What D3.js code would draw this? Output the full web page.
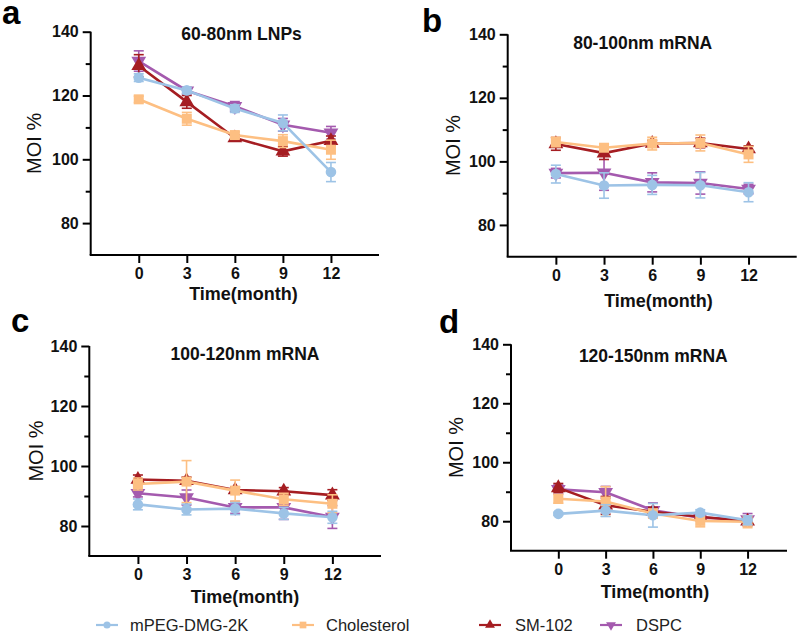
<!DOCTYPE html>
<html>
<head>
<meta charset="utf-8">
<script src="https://cdn.jsdelivr.net/npm/d3@7"></script>
<style>
  html, body { margin: 0; padding: 0; background: #fff; }
  svg { display: block; font-family: Arial, "Liberation Sans", sans-serif; }
</style>
</head>
<body>
<svg id="chart" width="800" height="634"></svg>
<script>
// ---------- DATA ----------
const months = [0, 3, 6, 9, 12];
const xTicks = [0, 3, 6, 9, 12];
const yTicksMajor = [80, 100, 120, 140];
const yTicksMinor = [90, 110, 130];
const seriesNames = ["mPEG-DMG-2K", "Cholesterol", "SM-102", "DSPC"];
const seriesColors = ["#9dc3e6", "#fdbf82", "#a51d22", "#a45aae"];
const panelTitles = ["60-80nm LNPs", "80-100nm mRNA", "100-120nm mRNA", "120-150nm mRNA"];
const panelLetters = ["a", "b", "c", "d"];

// panel a
const a_mPEG = [125.6, 121.6, 115.9, 111.4, 96.0];
const a_mPEG_sd = [1.2, 1.0, 1.2, 2.5, 3.0];
const a_Chol = [118.8, 112.7, 107.6, 105.7, 103.0];
const a_Chol_sd = [1.0, 2.0, 1.0, 2.0, 3.0];
const a_SM = [129.3, 118.0, 106.7, 102.5, 105.8];
const a_SM_sd = [3.5, 2.0, 1.0, 1.5, 1.5];
const a_DSPC = [130.8, 121.5, 116.6, 110.8, 108.3];
const a_DSPC_sd = [3.2, 1.0, 1.5, 2.0, 2.0];

// panel b
const b_mPEG = [96.0, 92.4, 92.6, 92.5, 90.3];
const b_mPEG_sd = [2.8, 4.0, 3.0, 4.0, 3.0];
const b_Chol = [106.1, 104.3, 105.6, 105.8, 102.2];
const b_Chol_sd = [1.5, 1.0, 2.0, 2.5, 2.5];
const b_SM = [105.5, 102.6, 105.6, 105.8, 103.9];
const b_SM_sd = [2.0, 2.0, 1.0, 1.5, 1.0];
const b_DSPC = [96.3, 96.4, 93.4, 93.2, 91.3];
const b_DSPC_sd = [1.5, 5.5, 3.0, 3.5, 1.5];

// panel c
const c_mPEG = [87.2, 85.5, 85.8, 84.2, 82.9];
const c_mPEG_sd = [1.8, 1.8, 2.0, 2.0, 2.0];
const c_Chol = [94.0, 94.8, 91.8, 88.9, 87.4];
const c_Chol_sd = [2.0, 7.0, 3.5, 2.0, 3.0];
const c_SM = [95.5, 95.1, 92.0, 91.6, 90.3];
const c_SM_sd = [1.5, 1.2, 1.0, 1.2, 1.8];
const c_DSPC = [90.9, 89.5, 86.2, 86.2, 83.0];
const c_DSPC_sd = [1.2, 2.5, 2.0, 4.0, 3.8];

// panel d
const d_mPEG = [82.5, 83.6, 82.0, 82.9, 80.3];
const d_mPEG_sd = [0.5, 2.0, 4.0, 1.0, 1.5];
const d_Chol = [87.6, 86.7, 82.6, 80.1, 79.8];
const d_Chol_sd = [1.5, 5.0, 1.5, 2.0, 2.0];
const d_SM = [91.3, 85.4, 83.2, 81.5, 80.0];
const d_SM_sd = [1.5, 3.0, 1.5, 1.0, 1.5];
const d_DSPC = [90.8, 89.8, 83.7, 81.2, 80.6];
const d_DSPC_sd = [1.5, 2.0, 2.5, 1.0, 2.0];

const panelValues = [
  [[a_mPEG, a_mPEG_sd], [a_Chol, a_Chol_sd], [a_SM, a_SM_sd], [a_DSPC, a_DSPC_sd]],
  [[b_mPEG, b_mPEG_sd], [b_Chol, b_Chol_sd], [b_SM, b_SM_sd], [b_DSPC, b_DSPC_sd]],
  [[c_mPEG, c_mPEG_sd], [c_Chol, c_Chol_sd], [c_SM, c_SM_sd], [c_DSPC, c_DSPC_sd]],
  [[d_mPEG, d_mPEG_sd], [d_Chol, d_Chol_sd], [d_SM, d_SM_sd], [d_DSPC, d_DSPC_sd]]
];

// ---------- LAYOUT ----------
const layout = [
  { left: 90.7, right: 379, top: 31.7, bottom: 255, xMax: 15,
    titleX: 241.5, titleY: 40, xlabX: 243.5, xlabY: 300, ylabX: 34, letterX: 2, letterY: 24 },
  { left: 507.7, right: 796.7, top: 34.3, bottom: 256.7, xMax: 15,
    titleX: 642.7, titleY: 49, xlabX: 658.5, xlabY: 307, ylabX: 453, letterX: 422, letterY: 32 },
  { left: 89.3, right: 381, top: 346, bottom: 556, xMax: 15,
    titleX: 245, titleY: 360, xlabX: 245, xlabY: 603, ylabX: 36, letterX: 11, letterY: 332 },
  { left: 511, right: 787, top: 344.3, bottom: 550.7, xMax: 14.5,
    titleX: 653.3, titleY: 362, xlabX: 655, xlabY: 598, ylabX: 456, letterX: 439, letterY: 333 }
];

const svg = d3.select("#chart");
const symbolTypes = [d3.symbolCircle, d3.symbolSquare, d3.symbolTriangle, d3.symbolTriangle];
const symbolSizes = [88, 100, 95, 95];
const symbolRotate = [0, 0, 0, 180];
const drawOrder = [3, 2, 1, 0];

panelValues.forEach((pv, pi) => {
  const L = layout[pi];
  const x = d3.scaleLinear().domain([-3, L.xMax]).range([L.left, L.right]);
  const y = d3.scaleLinear().domain([70, 140]).range([L.bottom, L.top]);
  const g = svg.append("g");

  // y axis (major)
  const yAx = g.append("g").attr("transform", `translate(${L.left},0)`)
    .call(d3.axisLeft(y).tickValues(yTicksMajor).tickSize(8).tickPadding(4).tickFormat(d3.format("d")));
  yAx.select(".domain").attr("stroke-width", 2).attr("d", `M0,${L.top}V${L.bottom}`);
  yAx.selectAll(".tick line").attr("stroke-width", 2);
  yAx.selectAll("text").attr("font-size", 16).attr("font-weight", "bold").attr("fill", "#111")
    .attr("font-family", "Arial, 'Liberation Sans', sans-serif");
  // minor ticks
  const yMin = g.append("g").attr("transform", `translate(${L.left},0)`)
    .call(d3.axisLeft(y).tickValues(yTicksMinor).tickSize(5).tickFormat(""));
  yMin.select(".domain").remove();
  yMin.selectAll(".tick line").attr("stroke-width", 2);

  // x axis
  const xAx = g.append("g").attr("transform", `translate(0,${L.bottom})`)
    .call(d3.axisBottom(x).tickValues(xTicks).tickSize(8).tickPadding(5).tickFormat(d3.format("d")));
  xAx.select(".domain").attr("stroke-width", 2).attr("d", `M${L.left - 1},0H${L.right}`);
  xAx.selectAll(".tick line").attr("stroke-width", 2);
  xAx.selectAll("text").attr("font-size", 16).attr("font-weight", "bold").attr("fill", "#111")
    .attr("font-family", "Arial, 'Liberation Sans', sans-serif");

  // titles & labels
  g.append("text").attr("x", L.titleX).attr("y", L.titleY).attr("text-anchor", "middle")
    .attr("font-size", 17.5).attr("font-weight", "bold").attr("fill", "#111").text(panelTitles[pi]);
  g.append("text").attr("x", L.xlabX).attr("y", L.xlabY).attr("text-anchor", "middle")
    .attr("font-size", 18).attr("font-weight", "bold").attr("fill", "#111").text("Time(month)");
  g.append("text").attr("transform", `translate(${L.ylabX + 7},${(L.top + L.bottom) / 2}) rotate(-90)`)
    .attr("text-anchor", "middle").attr("font-size", 20).attr("fill", "#111").text("MOI %");
  svg.append("text").attr("x", L.letterX).attr("y", L.letterY)
    .attr("font-size", 33).attr("font-weight", "bold").attr("fill", "#000").text(panelLetters[pi]);

  // series
  drawOrder.forEach(si => {
    const vals = pv[si][0], sds = pv[si][1];
    const pts = months.map((m, i) => ({ m, v: vals[i], sd: sds[i] }));
    const col = seriesColors[si];
    const sg = g.append("g");
    // error bars
    pts.forEach(p => {
      const cx = x(p.m);
      sg.append("line").attr("x1", cx).attr("x2", cx).attr("y1", y(p.v + p.sd)).attr("y2", y(p.v - p.sd))
        .attr("stroke", col).attr("stroke-width", 1.6);
      [p.v + p.sd, p.v - p.sd].forEach(e => {
        sg.append("line").attr("x1", cx - 5).attr("x2", cx + 5).attr("y1", y(e)).attr("y2", y(e))
          .attr("stroke", col).attr("stroke-width", 1.6);
      });
    });
    sg.append("path").datum(pts)
      .attr("d", d3.line().x(p => x(p.m)).y(p => y(p.v)))
      .attr("fill", "none").attr("stroke", col).attr("stroke-width", 2.6);
    sg.selectAll(".mk").data(pts).enter().append("path")
      .attr("d", d3.symbol().type(symbolTypes[si]).size(symbolSizes[si]))
      .attr("transform", p => `translate(${x(p.m)},${y(p.v)}) rotate(${symbolRotate[si]})`)
      .attr("fill", col);
  });
});

// legend
const legendX = [96, 292, 479, 600];
const legendY = 625;
const lg = svg.append("g");
seriesNames.forEach((name, si) => {
  const lx = legendX[si];
  lg.append("line").attr("x1", lx).attr("x2", lx + 22).attr("y1", legendY).attr("y2", legendY)
    .attr("stroke", seriesColors[si]).attr("stroke-width", 2.2);
  lg.append("path").attr("d", d3.symbol().type(symbolTypes[si]).size(symbolSizes[si] * 0.45))
    .attr("transform", `translate(${lx + 11},${legendY}) rotate(${symbolRotate[si]})`)
    .attr("fill", seriesColors[si]);
  lg.append("text").attr("x", lx + (si < 2 ? 34 : 36)).attr("y", legendY).attr("dy", "0.35em")
    .attr("font-size", 16.5).attr("fill", "#222").text(name);
});
</script>
</body>
</html>
